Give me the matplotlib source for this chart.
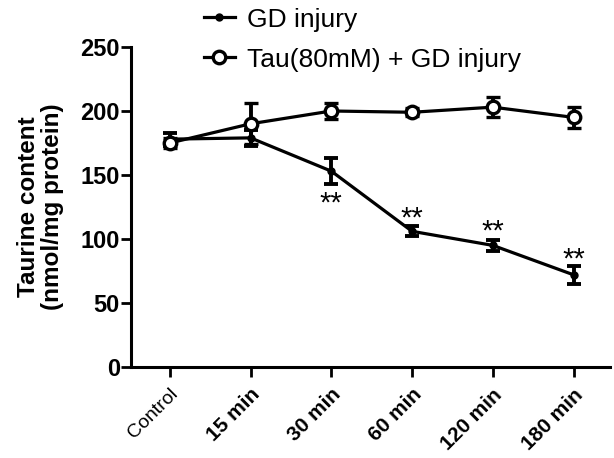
import matplotlib
matplotlib.use('Agg')
import matplotlib.pyplot as plt
from matplotlib.lines import Line2D
import numpy as np

plt.rcParams['font.family'] = ['Liberation Sans', 'DejaVu Sans']

# data
groups = ['Control', '15 min', '30 min', '60 min', '120 min', '180 min']
gd_mean = [178, 179, 153, 106, 95, 72]
gd_err = [5, 6, 10, 4, 4, 7]
tau_mean = [175, 190, 200, 199, 203, 195]
tau_err = [4, 16, 6, 3, 8, 8]
star_pos = [128, 116, 106, 84]  # y of the ** marks for 30..180 min
star_idx = [2, 3, 4, 5]

fig = plt.figure(figsize=(6.14, 4.58), dpi=100)
ax = fig.add_axes([0.2134, 0.1987, 0.780, 0.6987])

x = np.arange(len(groups))

# GD injury: small filled dots
ax.errorbar(x, gd_mean, yerr=gd_err, color='black', marker='o', markersize=5,
            linewidth=2.3, elinewidth=2.8, capsize=5, capthick=2.8, zorder=3)
# Tau + GD injury: open circles
ax.errorbar(x, tau_mean, yerr=tau_err, color='black', marker='o', markersize=9,
            markerfacecolor='white', markeredgewidth=2.4,
            linewidth=2.3, elinewidth=2.8, capsize=5, capthick=2.8, zorder=4)

for i, yy in zip(star_idx, star_pos):
    ax.text(x[i], yy, '**', ha='center', va='center', fontsize=21)

ax.set_ylim(0, 250)
ax.set_xlim(-0.48, 5.45)
ax.set_yticks([0, 50, 100, 150, 200, 250])
ax.set_xticks(x)
ax.set_xticklabels(groups, rotation=45, ha='right', rotation_mode='anchor')
for i, lab in enumerate(ax.get_xticklabels()):
    if i == 0:
        lab.set_fontsize(14)
    else:
        lab.set_fontsize(15)
        lab.set_fontweight('bold')
for lab in ax.get_yticklabels():
    lab.set_fontsize(17)
    lab.set_fontweight('bold')

ax.spines['top'].set_visible(False)
ax.spines['right'].set_visible(False)
ax.spines['left'].set_linewidth(2.2)
ax.spines['bottom'].set_linewidth(2.2)
ax.tick_params(axis='y', width=2, length=7, pad=1)
ax.tick_params(axis='x', width=2, length=7, pad=6)

ax.set_ylabel('Taurine content\n(nmol/mg protein)', fontsize=17.5, fontweight='bold',
              linespacing=1.05, labelpad=12)

handles = [
    Line2D([], [], color='black', marker='o', markersize=5, linewidth=2.3),
    Line2D([], [], color='black', marker='o', markersize=9, markerfacecolor='white',
           markeredgewidth=2.4, linewidth=2.3),
]
labels = ['GD injury', 'Tau(80mM) + GD injury']
fig.legend(handles, labels, loc='upper left', bbox_to_anchor=(0.293, 1.035),
           frameon=False, fontsize=19, handlelength=1.2, handletextpad=0.45,
           labelspacing=0.6)

fig.savefig('out.png', dpi=100)
